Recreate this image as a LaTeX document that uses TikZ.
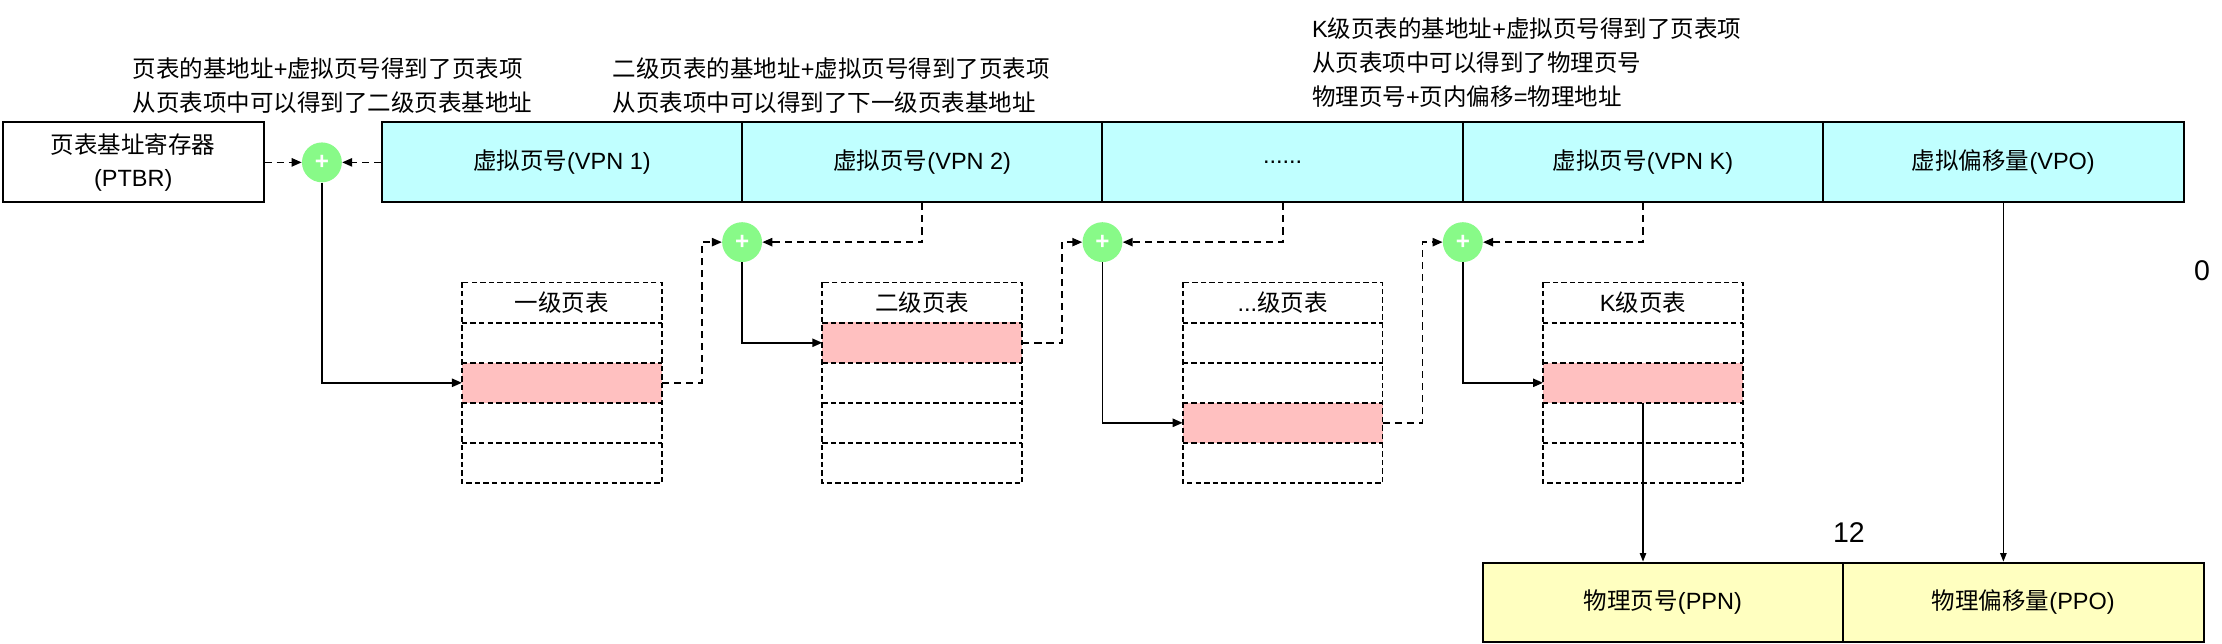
\documentclass[tikz,border=0pt]{standalone}
\usepackage{fontspec}
\setmainfont{Liberation Sans}
\newfontfamily\cjk{Noto Sans CJK SC}
\usetikzlibrary{arrows.meta,shapes.geometric}
\newcommand\zh[1]{{\cjk #1}}
\definecolor{vcyan}{HTML}{C0FFFF}
\definecolor{ppink}{HTML}{FFC0C0}
\definecolor{pyel}{HTML}{FFFFC0}
\definecolor{pgreen}{HTML}{88FA88}
\begin{document}
\begin{tikzpicture}[x=1pt,y=-1pt,
  every node/.style={font=\fontsize{16.5}{23}\selectfont},
  vcell/.style={draw,line width=1.4pt,fill=vcyan,minimum width=253pt,minimum height=56pt,inner sep=0pt},
  pcell/.style={draw,line width=1.4pt,fill=pyel,minimum width=253pt,minimum height=56pt,inner sep=0pt},
  regbox/.style={draw,line width=1.4pt,fill=white,minimum width=183pt,minimum height=56pt,inner sep=0pt,align=center},
  adder/.style={shape=circle,fill=pgreen,minimum size=28pt,inner sep=0pt,text=white,font=\bfseries\fontsize{17}{17}\selectfont},
  tcell/.style={minimum width=140pt,minimum height=28.1pt,inner sep=0pt},
  tdash/.style={line width=1.2pt,dash pattern=on 3.8pt off 2.2pt},
  dcon/.style={line width=1.2pt,dash pattern=on 5pt off 3.5pt,-{Triangle[length=7pt,width=5.8pt]}},
  scon/.style={line width=1.2pt,-{Triangle[length=7pt,width=5.8pt]}},
  tcon/.style={line width=0.9pt,-{Triangle[length=6pt,width=4.5pt]}},
  note/.style={anchor=west,align=left,inner sep=0pt,font=\fontsize{16.5}{24}\selectfont},
  big/.style={inner sep=0pt,font=\fontsize{20}{20}\selectfont}
]
\useasboundingbox (0,0) rectangle (1560,452);

% notes
\node[note] (txt1) at (93,60) {\zh{页表的基地址}+\zh{虚拟页号得到了页表项}\\\zh{从页表项中可以得到了二级页表基地址}};
\node[note] (txt2) at (430,60) {\zh{二级页表的基地址}+\zh{虚拟页号得到了页表项}\\\zh{从页表项中可以得到了下一级页表基地址}};
\node[note] (txt3) at (921,44) {K\zh{级页表的基地址}+\zh{虚拟页号得到了页表项}\\\zh{从页表项中可以得到了物理页号}\\\zh{物理页号}+\zh{页内偏移}=\zh{物理地址}};

% register and virtual address
\node[regbox] (ptbr) at (93.5,114) {\zh{页表基址寄存器}\\(PTBR)};
\node[vcell] (v1) at (394.5,114) {\zh{虚拟页号}(VPN 1)};
\node[vcell] (v2) at (647.5,114) {\zh{虚拟页号}(VPN 2)};
\node[vcell] (v3) at (900.5,114) {......};
\node[vcell] (v4) at (1153.5,114) {\zh{虚拟页号}(VPN K)};
\node[vcell] (v5) at (1406.5,114) {\zh{虚拟偏移量}(VPO)};

% adders
\node[adder] (e1) at (226,114) {+};
\node[adder] (e2) at (521,170) {+};
\node[adder] (e3) at (774,170) {+};
\node[adder] (e4) at (1027,170) {+};

% page tables
\foreach \n/\x/\hit/\ttl in {1/394.5/3/{\zh{一级页表}},2/647.5/2/{\zh{二级页表}},3/900.5/4/{...\zh{级页表}},4/1153.5/3/{K\zh{级页表}}}{
  \foreach \r in {1,...,5}{
    \node[tcell] (t\n-\r) at (\x,{198.5+28.1*(\r-0.5)}) {\ifnum\r=1 \ttl\fi};
  }
  \fill[ppink] (t\n-\hit.north west) rectangle (t\n-\hit.south east);
  \draw[tdash] (t\n-1.north west) rectangle (t\n-5.south east);
  \foreach \r in {1,...,4}{\draw[tdash] (t\n-\r.south west) -- (t\n-\r.south east);}
}

% physical address
\node[pcell] (ppn) at (1167.5,423) {\zh{物理页号}(PPN)};
\node[pcell] (ppo) at (1420.5,423) {\zh{物理偏移量}(PPO)};
\node[big] (n12) at (1298,374) {12};
\node[big] (n0) at (1546,190) {0};

% connectors
\draw[dcon] (ptbr.east) -- (e1.west);
\draw[dcon] (v1.west) -- (e1.east);
\draw[scon] (e1.south) |- (t1-3.west);
\draw[dcon] (v2.south) |- (e2.east);
\draw[dcon] (t1-3.east) -- ++(28,0) |- (e2.west);
\draw[scon] (e2.south) |- (t2-2.west);
\draw[dcon] (v3.south) |- (e3.east);
\draw[dcon] (t2-2.east) -- ++(28,0) |- (e3.west);
\draw[scon] (e3.south) |- (t3-4.west);
\draw[dcon] (v4.south) |- (e4.east);
\draw[dcon] (t3-4.east) -- ++(28,0) |- (e4.west);
\draw[scon] (e4.south) |- (t4-3.west);
\draw[tcon] (t4-3.south) -- (t4-3.south |- ppn.north);
\draw[tcon] (v5.south) -- (v5.south |- ppo.north);
\end{tikzpicture}
\end{document}
